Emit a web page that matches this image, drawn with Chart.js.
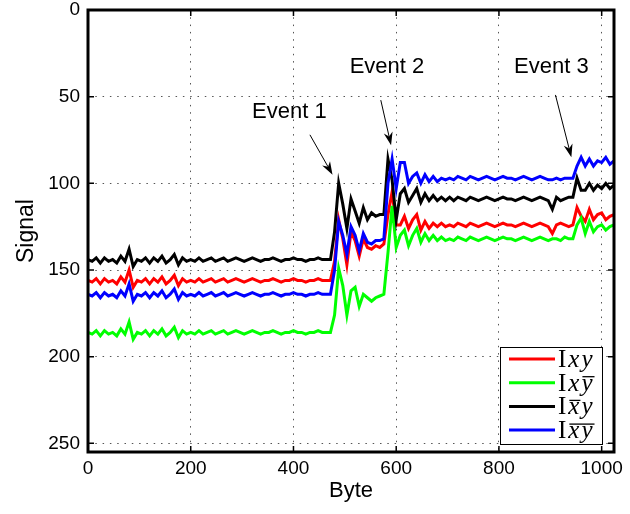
<!DOCTYPE html>
<html>
<head>
<meta charset="utf-8">
<title>Signal vs Byte</title>
<script src="https://cdn.jsdelivr.net/npm/chart.js@4.4.0/dist/chart.umd.min.js"></script>
<style>
  html, body { margin: 0; padding: 0; background: #fff; }
  #wrap { position: relative; width: 630px; height: 514px; }
</style>
</head>
<body>
<div id="wrap"><canvas id="sig" width="630" height="514"></canvas></div>
<script>
// samples are taken every 8 bytes, 0..1024
const byteStep = 8;

const sigRed = [
  156,157,155,158,155,157,156,158,154,157,150,160,156,157,155,158,155,157,154,158,156,153,159,155,157,156,
  157,155,157,156,155,157,156,155,157,156,155,156,157,156,155,156,157,156,156,155,156,157,156,156,155,156,156,157,156,156,155,156,156,
  156,
  145,121,132,147,128,133,142,132,137,138,136,137,135,
  118,105,124,124,119,126,121,118,127,122,126,123,125,123,125,124,
  125,123,124,125,123,124,125,124,123,124,125,124,123,124,124,125,124,123,124,125,124,123,124,125,
  129,
  124,123,124,125,124,
  114,119,122,115,121,118,117,121,119,118
];
const sigGreen = [
  186,187,185,188,185,187,186,188,184,187,180,190,186,187,185,188,185,187,184,188,186,183,189,185,187,186,
  187,185,187,186,185,187,186,185,187,186,185,186,187,186,185,186,187,186,186,185,186,187,186,186,185,186,186,187,186,186,185,186,186,
  186,
  176,149,159,176,162,160,171,164,166,168,166,165,164,
  140,113,137,130,127,136,130,126,134,129,133,130,133,131,133,132,
  133,131,132,133,131,132,133,132,131,132,133,132,131,132,132,133,132,131,132,133,132,131,132,133,
  132,
  132,133,131,132,132,
  124,120,129,122,128,125,124,127,125,124
];
const sigBlack = [
  144,145,143,146,143,145,144,146,142,145,138,148,144,145,143,146,143,145,142,146,144,141,147,143,145,144,
  145,143,145,144,143,145,144,143,145,144,143,144,145,144,143,144,145,144,144,143,144,145,144,144,143,144,144,145,144,144,143,144,144,
  144,
  128,100,112,126,109,116,123,114,121,117,119,118,118,
  86,98,121,106,103,111,107,103,111,106,110,107,110,108,110,108,
  110,108,109,110,108,109,110,109,108,109,110,109,108,109,109,110,109,108,109,110,109,108,109,110,
  115,
  108,110,109,108,108,
  97,104,104,100,104,101,103,100,103,101
];
const sigBlue = [
  164,165,163,166,163,165,164,166,162,165,158,168,164,165,163,166,163,165,162,166,164,161,167,163,165,164,
  165,163,165,164,163,165,164,163,165,164,163,164,165,164,163,164,165,164,164,163,164,165,164,164,163,164,164,165,164,164,163,164,164,
  164,
  150,122,130,141,125,130,139,129,134,135,133,133,132,
  100,86,103,88,88,100,96,94,100,95,99,96,99,97,98,97,
  98,96,97,98,96,97,98,97,96,97,98,97,96,97,97,98,97,96,97,98,97,96,97,98,
  98,
  97,98,97,97,97,
  90,85,90,86,90,87,88,85,89,87
];

const seriesColors = ['#ff0000', '#00ff00', '#000000', '#0000ff'];
// overline flags for the x and y of each legend entry
const legendBars = [[false, false], [false, true], [true, false], [true, true]];

const xTicks = [0, 200, 400, 600, 800, 1000];
const yTicks = [0, 50, 100, 150, 200, 250];

// event notes: label, text position, arrow tail, arrow head (byte, signal)
const eventNames = ['Event 1', 'Event 2', 'Event 3'];
const eventTextAt = [[392, 59], [582, 33], [902, 33]];
const eventArrowFrom = [[432, 72], [570, 52], [910, 49]];
const eventArrowTo = [[476, 95], [590, 78], [941, 85]];

const bytes = sigBlack.map((_, i) => i * byteStep);
const toPoints = arr => arr.map((v, i) => ({ x: bytes[i], y: v }));

const sansFont = '"Liberation Sans", Arial, Helvetica, sans-serif';
const serifFont = '"Liberation Serif", "Times New Roman", serif';

function drawArrow(ctx, x0, y0, x1, y1) {
  const ang = Math.atan2(y1 - y0, x1 - x0);
  const len = 13, half = 4.5, notch = 9;
  ctx.beginPath();
  ctx.moveTo(x0, y0);
  ctx.lineTo(x1 - Math.cos(ang) * notch, y1 - Math.sin(ang) * notch);
  ctx.lineWidth = 1;
  ctx.stroke();
  const bx = x1 - Math.cos(ang) * len, by = y1 - Math.sin(ang) * len;
  const nx = -Math.sin(ang), ny = Math.cos(ang);
  ctx.beginPath();
  ctx.moveTo(x1, y1);
  ctx.lineTo(bx + nx * half, by + ny * half);
  ctx.lineTo(x1 - Math.cos(ang) * notch, y1 - Math.sin(ang) * notch);
  ctx.lineTo(bx - nx * half, by - ny * half);
  ctx.closePath();
  ctx.fill();
}

const decorPlugin = {
  id: 'decor',
  afterDraw(chart) {
    const { ctx, chartArea: a, scales: { x, y } } = chart;
    ctx.save();

    // inward tick marks on all four sides
    ctx.strokeStyle = '#000';
    ctx.lineWidth = 1.5;
    ctx.beginPath();
    xTicks.forEach(v => {
      const px = x.getPixelForValue(v);
      ctx.moveTo(px, a.bottom); ctx.lineTo(px, a.bottom - 6);
      ctx.moveTo(px, a.top); ctx.lineTo(px, a.top + 6);
    });
    yTicks.forEach(v => {
      const py = y.getPixelForValue(v);
      ctx.moveTo(a.left, py); ctx.lineTo(a.left + 6, py);
      ctx.moveTo(a.right, py); ctx.lineTo(a.right - 6, py);
    });
    ctx.stroke();

    // axes box
    ctx.lineWidth = 3;
    ctx.strokeRect(a.left, a.top, a.right - a.left, a.bottom - a.top);

    // event notes
    ctx.fillStyle = '#000';
    ctx.font = '22px ' + sansFont;
    ctx.textAlign = 'center';
    ctx.textBaseline = 'middle';
    eventNames.forEach((name, i) => {
      ctx.fillText(name, x.getPixelForValue(eventTextAt[i][0]), y.getPixelForValue(eventTextAt[i][1]));
      drawArrow(ctx,
        x.getPixelForValue(eventArrowFrom[i][0]), y.getPixelForValue(eventArrowFrom[i][1]),
        x.getPixelForValue(eventArrowTo[i][0]), y.getPixelForValue(eventArrowTo[i][1]));
    });

    // legend, lower right
    const bw = 102, bh = 97;
    const bx = a.right - 12 - bw, by = a.bottom - 8 - bh;
    ctx.fillStyle = '#fff';
    ctx.fillRect(bx, by, bw, bh);
    ctx.lineWidth = 1;
    ctx.strokeStyle = '#000';
    ctx.strokeRect(bx + 0.5, by + 0.5, bw, bh);
    ctx.textAlign = 'left';
    ctx.textBaseline = 'alphabetic';
    chart.data.datasets.forEach((ds, i) => {
      const ry = by + 12 + i * 23.7;
      ctx.strokeStyle = ds.borderColor;
      ctx.lineWidth = 3;
      ctx.beginPath();
      ctx.moveTo(bx + 9, ry); ctx.lineTo(bx + 55, ry);
      ctx.stroke();

      let tx = bx + 58;
      const base = ry + 8;
      ctx.fillStyle = '#000';
      ctx.font = '25px ' + serifFont;
      ctx.fillText('I', tx, base);
      tx += ctx.measureText('I').width + 2;
      ctx.font = 'italic 25px ' + serifFont;
      const wx = ctx.measureText('x').width;
      const wy = ctx.measureText('y').width;
      ctx.fillText('x', tx, base);
      const yx = tx + wx + 2;
      ctx.fillText('y', yx, base);
      ctx.strokeStyle = '#000';
      ctx.lineWidth = 1.3;
      ctx.beginPath();
      const barY = base - 14;
      if (legendBars[i][0] && legendBars[i][1]) {
        ctx.moveTo(tx + 1, barY); ctx.lineTo(yx + wy + 2, barY);
      } else if (legendBars[i][0]) {
        ctx.moveTo(tx + 1, barY); ctx.lineTo(tx + wx + 1, barY);
      } else if (legendBars[i][1]) {
        ctx.moveTo(yx + 1, barY); ctx.lineTo(yx + wy + 2, barY);
      }
      ctx.stroke();
    });

    ctx.restore();
  }
};

const mkSet = (label, data, color, order) => ({
  label,
  data: toPoints(data),
  borderColor: color,
  backgroundColor: color,
  borderWidth: 3,
  pointRadius: 0,
  tension: 0,
  fill: false,
  order
});

const plainNumber = v => String(v);

new Chart(document.getElementById('sig'), {
  type: 'line',
  data: {
    datasets: [
      mkSet('Ixy', sigRed, seriesColors[0], 3),
      mkSet('Ixy\u0305', sigGreen, seriesColors[1], 2),
      mkSet('Ix\u0305y', sigBlack, seriesColors[2], 1),
      mkSet('Ix\u0305y\u0305', sigBlue, seriesColors[3], 0)
    ]
  },
  options: {
    responsive: false,
    animation: false,
    layout: { padding: { left: 0, top: 10, right: 16, bottom: 0 } },
    plugins: { legend: { display: false }, tooltip: { enabled: false } },
    scales: {
      x: {
        type: 'linear',
        min: 0,
        max: 1024,
        afterBuildTicks: s => { s.ticks = xTicks.map(v => ({ value: v })); },
        afterFit: s => { s.height = 62; s.paddingLeft = 0; s.paddingRight = 0; },
        ticks: {
          color: '#000',
          padding: 5,
          maxRotation: 0,
          callback: plainNumber,
          font: { family: sansFont, size: 19 }
        },
        grid: { color: '#555', lineWidth: 1, drawTicks: false },
        border: { display: false, dash: [1.5, 5.8] },
        title: {
          display: true,
          text: 'Byte',
          color: '#000',
          font: { family: sansFont, size: 22 },
          padding: { top: 0, bottom: 10 }
        }
      },
      y: {
        type: 'linear',
        reverse: true,
        min: 0,
        max: 255,
        afterBuildTicks: s => { s.ticks = yTicks.map(v => ({ value: v })); },
        afterFit: s => { s.width = 88; s.paddingTop = 0; s.paddingBottom = 0; },
        ticks: {
          color: '#000',
          padding: 8,
          callback: plainNumber,
          font: { family: sansFont, size: 19 }
        },
        grid: { color: '#555', lineWidth: 1, drawTicks: false },
        border: { display: false, dash: [1.5, 5.8] },
        title: {
          display: true,
          text: 'Signal',
          color: '#000',
          font: { family: sansFont, size: 23 },
          padding: { top: 13, bottom: 0 }
        }
      }
    }
  },
  plugins: [decorPlugin]
});
</script>
</body>
</html>
